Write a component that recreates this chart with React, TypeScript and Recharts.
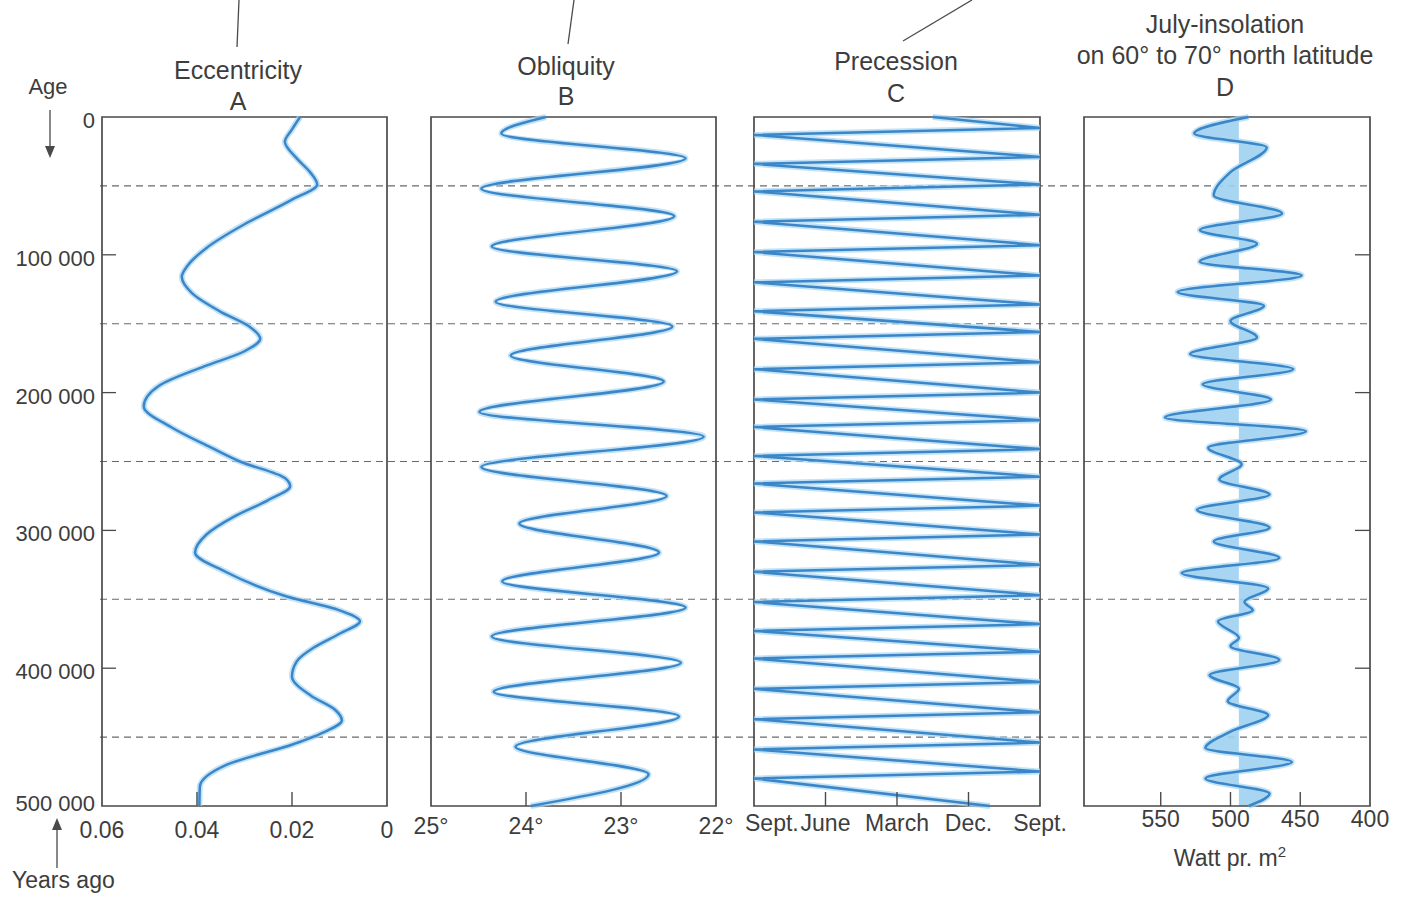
import React from 'react';
import { LineChart, ComposedChart, Line, Area, XAxis, YAxis, ReferenceLine, ReferenceArea } from 'recharts';

const FONT = '"Liberation Sans", Arial, Helvetica, sans-serif';
const INK = '#3d3d3d';
const FRAME = '#4a4a4a';
const BLUE = '#3a86c8';
const HALO = '#a6d6f3';

// ages are in thousands of years
const ageTicks = [0, 100, 200, 300, 400, 500];
const guideAges = [50, 150, 250, 350, 450];

const eccAges = [0, 9, 18, 30, 40, 49, 60, 78, 95, 108, 116, 128, 141, 152, 161, 170, 181, 195, 210, 225, 240, 250, 262, 268, 278, 290, 303, 316, 330, 348, 358, 366, 375, 385, 395, 406, 420, 430, 438, 446, 455, 470, 486, 500];
const eccValues = [0.0183, 0.02, 0.0215, 0.019, 0.0162, 0.0147, 0.02, 0.0301, 0.038, 0.042, 0.0432, 0.041, 0.0352, 0.029, 0.0267, 0.03, 0.0385, 0.048, 0.0512, 0.0455, 0.037, 0.031, 0.0215, 0.0204, 0.025, 0.0322, 0.038, 0.0404, 0.034, 0.0211, 0.01, 0.0057, 0.01, 0.0154, 0.019, 0.02, 0.016, 0.011, 0.0095, 0.013, 0.0196, 0.0337, 0.0394, 0.0395];
const eccTicks = [0, 0.02, 0.04, 0.06];

const oblAges = [0, 12, 30, 52, 72, 94, 112, 134, 152, 173, 192, 214, 232, 254, 275, 295, 316, 337, 356, 377, 396, 417, 435, 457, 477, 500];
const oblValues = [23.79, 24.26, 22.32, 24.47, 22.44, 24.36, 22.41, 24.32, 22.46, 24.16, 22.55, 24.49, 22.13, 24.47, 22.52, 24.07, 22.6, 24.25, 22.32, 24.36, 22.37, 24.34, 22.39, 24.11, 22.71, 23.95];
const oblTicks = [22, 23, 24, 25];

const precAges = [0, 8, 13, 29, 34, 49, 54, 71, 76, 93, 98, 115, 120, 136, 141, 156, 161, 178, 183, 200, 205, 220, 225, 241, 246, 261, 266, 282, 287, 303, 308, 325, 330, 347, 352, 368, 373, 388, 393, 410, 415, 432, 437, 454, 459, 475, 480, 500];
const precValues = [2.5, 4, 0, 4, 0, 4, 0, 4, 0, 4, 0, 4, 0, 4, 0, 4, 0, 4, 0, 4, 0, 4, 0, 4, 0, 4, 0, 4, 0, 4, 0, 4, 0, 4, 0, 4, 0, 4, 0, 4, 0, 4, 0, 4, 0, 4, 0, 3.3];
const precTicks = [0, 1, 2, 3, 4];
const precLabels = ['Sept.', 'June', 'March', 'Dec.', 'Sept.'];

const insAges = [0, 12, 22, 40, 57, 70, 82, 92, 105, 115, 127, 137, 148, 160, 172, 183, 194, 205, 218, 228, 240, 252, 263, 274, 285, 298, 308, 320, 331, 342, 352, 358, 366, 378, 384, 394, 405, 415, 424, 434, 446, 458, 468, 480, 491, 500];
const insValues = [487, 526, 474, 500, 512, 463, 522, 481, 522, 449, 538, 476, 500, 481, 529, 455, 520, 471, 547, 446, 516, 492, 508, 472, 524, 472, 512, 465, 535, 473, 490, 484, 509, 494, 500, 465, 515, 494, 502, 473, 500, 518, 456, 518, 472, 487];
const insTicks = [400, 450, 500, 550];
const insBase = 494;

const toRows = (ages: number[], values: number[]) => ages.map((kyr, i) => ({ kyr, v: values[i] }));

const W = 1405;
const H = 898;
const TOP = 117;
const XH = 40;
const BOT = 52; // plot bottom lands at 806

const textStyle = { fontFamily: FONT, fill: INK };

// the scan is slightly tilted, so each panel's labels sit a little higher than the one before
const bottomTick = (fmt: (v: number) => string, inner: number[], drop: number, firstStart = false) => (p: any) => {
  const v = p.payload.value;
  const start = firstStart && p.index === 0;
  return (
    <g>
      {inner.includes(v) && <line x1={p.x} x2={p.x} y1={p.y} y2={p.y - 14} stroke={FRAME} strokeWidth={1.4} />}
      <text x={start ? p.x - 9 : p.x} y={p.y + drop} textAnchor={start ? 'start' : 'middle'} fontSize={23} {...textStyle}>
        {fmt(v)}
      </text>
    </g>
  );
};

const ageTick = (p: any) => {
  const v = p.payload.value;
  const inner = v > 0 && v < 500;
  return (
    <g>
      {inner && <line x1={p.x} x2={p.x + 14} y1={p.y} y2={p.y} stroke={FRAME} strokeWidth={1.3} />}
      <text x={p.x - 7} y={v === 500 ? p.y - 3 : p.y + 3} dy="0.36em" textAnchor="end" fontSize={22} {...textStyle}>
        {v === 0 ? '0' : `${v} 000`}
      </text>
    </g>
  );
};

const rightTick = (p: any) => {
  const v = p.payload.value;
  if (v <= 0 || v >= 500) return <g />;
  return <line x1={p.x} x2={p.x - 15} y1={p.y} y2={p.y} stroke={FRAME} strokeWidth={1.3} />;
};

const series = (type: 'monotone' | 'linear') => [
  <Line key="halo" dataKey="v" type={type} stroke={HALO} strokeWidth={6} strokeOpacity={0.7} dot={false} isAnimationActive={false} />,
  <Line key="main" dataKey="v" type={type} stroke={BLUE} strokeWidth={2.5} dot={false} isAnimationActive={false} />,
];

const abs: React.CSSProperties = { position: 'absolute', left: 0, top: 0 };

const App: React.FC = () => {
  const ecc = toRows(eccAges, eccValues);
  const obl = toRows(oblAges, oblValues);
  const prec = toRows(precAges, precValues);
  const ins = toRows(insAges, insValues);

  return (
    <div style={{ ...abs, width: W, height: H, background: '#fff' }}>
      {/* dashed guide lines running across all panels */}
      <div style={abs}>
        <LineChart width={W} height={H} layout="vertical" data={ecc} margin={{ top: TOP, bottom: BOT + XH, left: 100, right: W - 1372 }}>
          <XAxis type="number" hide domain={[0, 0.06]} />
          <YAxis type="number" dataKey="kyr" hide domain={[0, 500]} />
          <Line dataKey="v" stroke="none" dot={false} isAnimationActive={false} />
          {guideAges.map((a) => (
            <ReferenceLine key={a} y={a} stroke="#6a6a6a" strokeWidth={1.1} strokeDasharray="7 5" ifOverflow="visible" />
          ))}
        </LineChart>
      </div>

      {/* A eccentricity */}
      <div style={abs}>
        <LineChart width={W} height={H} layout="vertical" data={ecc} margin={{ top: TOP, bottom: BOT, left: 102 - 90, right: W - 387 }}>
          <XAxis type="number" domain={[0, 0.06]} reversed allowDataOverflow ticks={eccTicks} height={XH} tickSize={0} tickMargin={0} axisLine={false} tickLine={false} interval={0}
            tick={bottomTick((v) => (v === 0 ? '0' : v.toFixed(2)), [0.02, 0.04], 32)} />
          <YAxis type="number" dataKey="kyr" domain={[0, 500]} ticks={ageTicks} width={90} tickSize={0} tickMargin={0} axisLine={false} tickLine={false} interval={0} tick={ageTick} />
          <ReferenceArea x1={0} x2={0.06} y1={0} y2={500} fill="none" fillOpacity={0} stroke={FRAME} strokeWidth={1.7} />
          {series('monotone')}
        </LineChart>
      </div>

      {/* B obliquity */}
      <div style={abs}>
        <LineChart width={W} height={H} layout="vertical" data={obl} margin={{ top: TOP, bottom: BOT, left: 431, right: W - 716 }}>
          <XAxis type="number" domain={[22, 25]} reversed allowDataOverflow ticks={oblTicks} height={XH} tickSize={0} tickMargin={0} axisLine={false} tickLine={false} interval={0}
            tick={bottomTick((v) => `${v}°`, [23, 24], 28)} />
          <YAxis type="number" dataKey="kyr" domain={[0, 500]} hide />
          <ReferenceArea x1={22} x2={25} y1={0} y2={500} fill="none" fillOpacity={0} stroke={FRAME} strokeWidth={1.7} />
          {series('monotone')}
        </LineChart>
      </div>

      {/* C precession */}
      <div style={abs}>
        <LineChart width={W} height={H} layout="vertical" data={prec} margin={{ top: TOP, bottom: BOT, left: 754, right: W - 1040 }}>
          <XAxis type="number" domain={[0, 4]} allowDataOverflow ticks={precTicks} height={XH} tickSize={0} tickMargin={0} axisLine={false} tickLine={false} interval={0}
            tick={bottomTick((v) => precLabels[v], [1, 2, 3], 25, true)} />
          <YAxis type="number" dataKey="kyr" domain={[0, 500]} hide />
          <ReferenceArea x1={0} x2={4} y1={0} y2={500} fill="none" fillOpacity={0} stroke={FRAME} strokeWidth={1.7} />
          {series('linear')}
        </LineChart>
      </div>

      {/* D July insolation */}
      <div style={abs}>
        <ComposedChart width={W} height={H} layout="vertical" data={ins} margin={{ top: TOP, bottom: BOT, left: 1084, right: W - 1370 - 10 }}>
          <XAxis type="number" domain={[400, 605]} reversed allowDataOverflow ticks={insTicks} height={XH} tickSize={0} tickMargin={0} axisLine={false} tickLine={false} interval={0}
            tick={bottomTick((v) => `${v}`, [450, 500, 550], 21)} />
          <YAxis type="number" dataKey="kyr" domain={[0, 500]} orientation="right" ticks={ageTicks} width={10} tickSize={0} tickMargin={0} axisLine={false} tickLine={false} interval={0} tick={rightTick} />
          <Area dataKey="v" type="monotone" baseValue={insBase} fill="#9fd1f1" fillOpacity={0.9} stroke="none" dot={false} isAnimationActive={false} />
          <ReferenceArea x1={400} x2={605} y1={0} y2={500} fill="none" fillOpacity={0} stroke={FRAME} strokeWidth={1.7} />
          {series('monotone')}
        </ComposedChart>
      </div>

      {/* titles and annotations */}
      <svg width={W} height={H} style={{ ...abs, pointerEvents: 'none' }}>
        <g stroke={FRAME} strokeWidth={1.3}>
          <line x1={239} y1={0} x2={237} y2={47} />
          <line x1={574} y1={0} x2={568} y2={44} />
          <line x1={972} y1={0} x2={903} y2={41} />
          <line x1={50} y1={110} x2={50} y2={150} />
          <line x1={57} y1={868} x2={57} y2={826} />
        </g>
        <polygon points="45,146 55,146 50,158" fill={FRAME} />
        <polygon points="52,830 62,830 57,818" fill={FRAME} />
        <g fontSize={25} textAnchor="middle" {...textStyle}>
          <text x={238} y={79}>Eccentricity</text>
          <text x={238} y={110}>A</text>
          <text x={566} y={75}>Obliquity</text>
          <text x={566} y={105}>B</text>
          <text x={896} y={70}>Precession</text>
          <text x={896} y={102}>C</text>
          <text x={1225} y={33}>July-insolation</text>
          <text x={1225} y={64}>on 60° to 70° north latitude</text>
          <text x={1225} y={96}>D</text>
        </g>
        <text x={48} y={94} fontSize={22} textAnchor="middle" {...textStyle}>Age</text>
        <text x={12} y={888} fontSize={23} {...textStyle}>Years ago</text>
        <text x={1230} y={866} fontSize={23} textAnchor="middle" {...textStyle}>
          Watt pr. m<tspan dy={-9} fontSize={15}>2</tspan>
        </text>
      </svg>
    </div>
  );
};

export default App;
